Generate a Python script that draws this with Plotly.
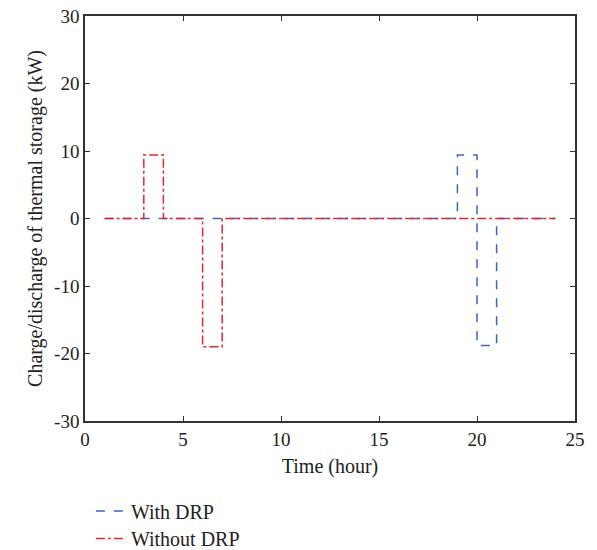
import plotly.graph_objects as go

hours = list(range(1, 25))
with_drp = [0]*18 + [9.4, -18.8] + [0]*4
without_drp = [0, 0, 9.4, 0, 0, -19.0] + [0]*18

x_ticks = [0, 5, 10, 15, 20, 25]
y_ticks = [-30, -20, -10, 0, 10, 20, 30]
y_tick_text = ["-30", "-20", "-10", "0", "10", "20", "30"]

FONT = "Liberation Serif"

fig = go.Figure()
fig.add_trace(go.Scatter(x=hours, y=with_drp, mode="lines", name="With DRP", legend="legend",
                         line=dict(color="#3d63c4", dash="dash", width=1.5, shape="hv")))
fig.add_trace(go.Scatter(x=hours, y=without_drp, mode="lines", name="Without DRP", legend="legend2",
                         line=dict(color="#e8262e", dash="dashdot", width=1.5, shape="hv")))

axis_common = dict(showgrid=False, zeroline=False, showline=True, linecolor="#333333",
                   linewidth=1.5, mirror="ticks", ticks="inside", ticklen=5,
                   tickcolor="#333333", tickwidth=1.2,
                   tickfont=dict(family=FONT, size=19, color="#222222"))

fig.update_xaxes(range=[0, 25], tickvals=x_ticks,
                 title=dict(text="Time (hour)", font=dict(family=FONT, size=20, color="#222222"), standoff=10),
                 **axis_common)
fig.update_yaxes(range=[-30, 30], tickvals=y_ticks, ticktext=y_tick_text,
                 title=dict(text="Charge/discharge of thermal storage (kW)", font=dict(family=FONT, size=20, color="#222222"), standoff=6),
                 **axis_common)

legend_common = dict(xanchor="left", yanchor="middle", bgcolor="rgba(0,0,0,0)",
                     font=dict(family=FONT, size=20, color="#222222"), itemwidth=30)

fig.update_layout(
    width=597, height=550,
    margin=dict(l=85, r=22, t=16, b=129, autoexpand=False),
    plot_bgcolor="white", paper_bgcolor="white",
    font=dict(family=FONT, size=19, color="#222222"),
    showlegend=True,
    legend=dict(x=0.012, y=-0.222, **legend_common),
    legend2=dict(x=0.012, y=-0.29, **legend_common),
)

fig.write_html("out.html")
